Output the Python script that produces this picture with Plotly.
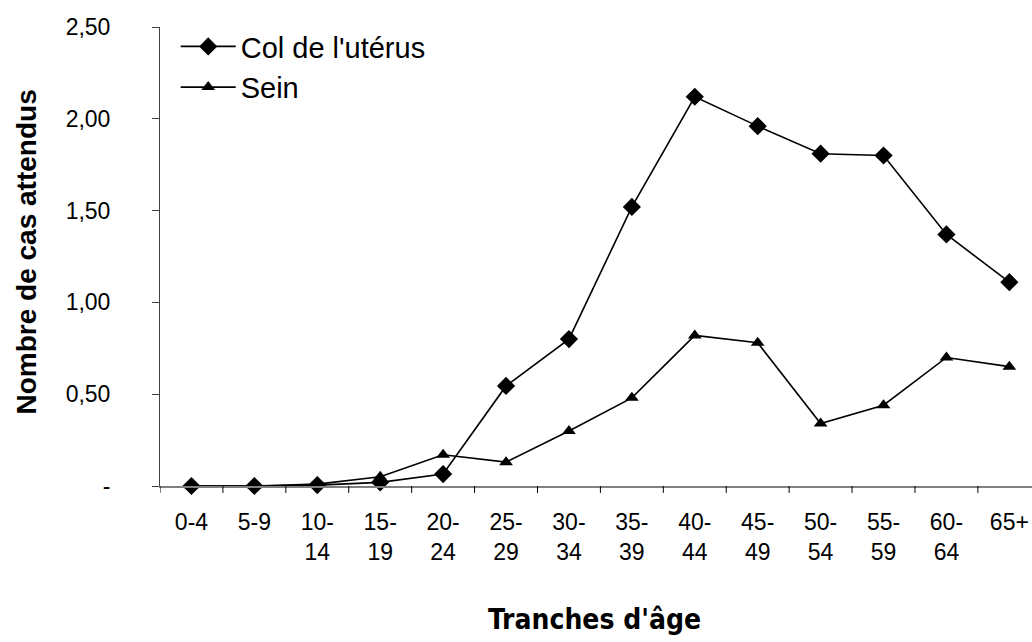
import plotly.graph_objects as go

categories = ["0-4", "5-9", "10-14", "15-19", "20-24", "25-29", "30-34", "35-39",
              "40-44", "45-49", "50-54", "55-59", "60-64", "65+"]
tick_labels = ["0-4", "5-9", "10-<br>14", "15-<br>19", "20-<br>24", "25-<br>29", "30-<br>34",
               "35-<br>39", "40-<br>44", "45-<br>49", "50-<br>54", "55-<br>59", "60-<br>64", "65+"]
col_uterus = [0.0, 0.0, 0.005, 0.02, 0.065, 0.545, 0.80, 1.52, 2.12, 1.96, 1.81, 1.80, 1.37, 1.11]
sein = [0.0, 0.0, 0.01, 0.05, 0.17, 0.13, 0.30, 0.48, 0.82, 0.78, 0.34, 0.44, 0.70, 0.65]
y_tickvals = [0, 0.5, 1.0, 1.5, 2.0, 2.5]
y_ticktext = ["-", "0,50", "1,00", "1,50", "2,00", "2,50"]

x = list(range(len(categories)))
fig = go.Figure()
fig.add_trace(go.Scatter(x=x, y=col_uterus, name="Col de l'utérus",
                         mode="lines+markers", cliponaxis=False,
                         line=dict(color="black", width=1.6),
                         marker=dict(symbol="diamond", size=14, color="black")))
fig.add_trace(go.Scatter(x=x, y=sein, name="Sein",
                         mode="lines+markers", cliponaxis=False,
                         line=dict(color="black", width=1.6),
                         marker=dict(symbol="triangle-up", size=12, color="black")))

fig.update_layout(
    width=1032, height=642,
    margin=dict(l=160, r=0, t=27, b=156),
    paper_bgcolor="white", plot_bgcolor="white",
    font=dict(family="Liberation Sans, Arial, sans-serif", size=23, color="black"),
    showlegend=True,
    legend=dict(x=0.018, y=1.013, xanchor="left", yanchor="top",
                font=dict(size=29), bgcolor="rgba(0,0,0,0)",
                itemwidth=55, tracegroupgap=0),
)
fig.update_xaxes(
    range=[-0.5, 13.36], automargin=False,
    tickmode="array", tickvals=x, ticktext=tick_labels,
    showline=True, linecolor="#808080", linewidth=2,
    ticks="", showgrid=False, zeroline=False,
    tickfont=dict(size=23), ticklabelstandoff=14,
)
# tick marks on category boundaries
for i in range(len(categories)):
    fig.add_shape(type="line", xref="x", yref="paper", x0=i - 0.5, x1=i - 0.5, y0=0, y1=-0.015,
                  line=dict(color="black", width=1))
fig.update_yaxes(
    range=[0, 2.5], automargin=False,
    tickmode="array", tickvals=y_tickvals, ticktext=y_ticktext,
    showline=True, linecolor="#404040", linewidth=1,
    ticks="outside", ticklen=7, tickcolor="#404040",
    showgrid=False, zeroline=False,
    tickfont=dict(size=23), ticklabelstandoff=37,
)
fig.add_annotation(text="<b>Nombre de cas attendus</b>", xref="paper", yref="paper",
                   x=-0.153, y=0.51, xanchor="center", yanchor="middle", textangle=-90,
                   showarrow=False, font=dict(size=28, family="Liberation Sans, Arial, sans-serif"))
fig.add_annotation(text="<b>Tranches d'âge</b>", xref="paper", yref="paper",
                   x=0.498, y=-0.29, xanchor="center", yanchor="middle",
                   showarrow=False,
                   font=dict(size=28, family="DejaVu Sans Condensed, DejaVu Sans, sans-serif"))

fig.write_html("out.html", config={"displayModeBar": False},
               post_script="document.body.style.margin='0';document.body.style.overflow='hidden';")
